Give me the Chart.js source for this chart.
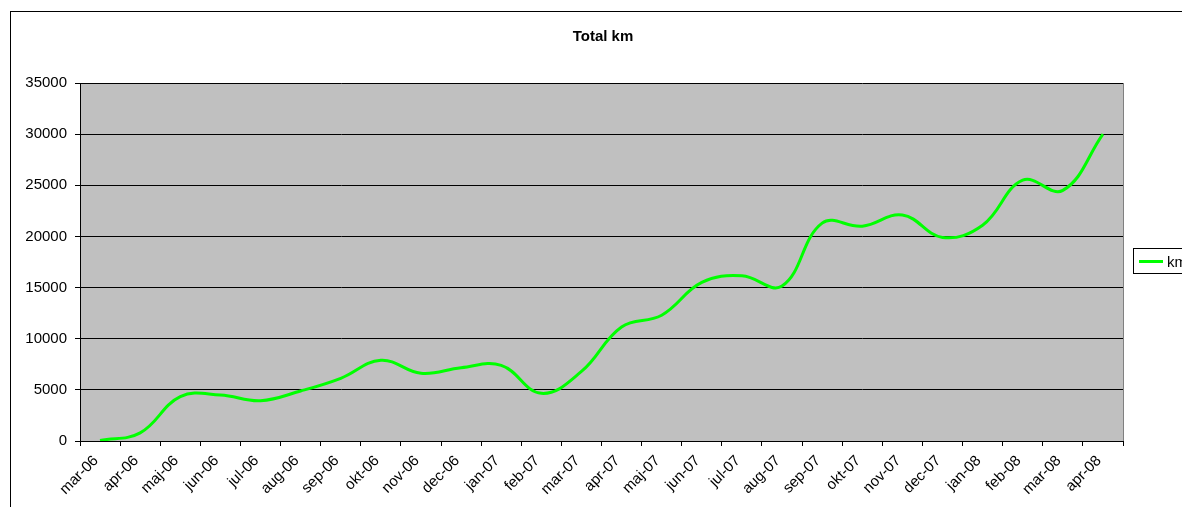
<!DOCTYPE html>
<html>
<head>
  <title>Total km</title>
  <script src="https://cdn.jsdelivr.net/npm/chart.js"></script>
  <style>
    body {
      margin: 0;
      background: #fff;
      overflow: hidden;
    }
  </style>
</head>
<body>
  <canvas id="kmChart" width="1182" height="507"></canvas>

  <script>
    // Months on the x axis
    const months = [
      "mar-06", "apr-06", "maj-06", "jun-06", "jul-06", "aug-06", "sep-06", "okt-06",
      "nov-06", "dec-06", "jan-07", "feb-07", "mar-07", "apr-07", "maj-07", "jun-07",
      "jul-07", "aug-07", "sep-07", "okt-07", "nov-07", "dec-07", "jan-08", "feb-08",
      "mar-08", "apr-08"
    ];

    // Total km
    const kmValues = [
      50, 800, 4330, 4500, 3940, 4890, 6130, 7900,
      6620, 7170, 7400, 4660, 6800, 11150, 12300, 15500,
      16150, 15150, 21300, 21000, 22100, 19900, 21100, 25500,
      24500, 30000
    ];

    const seriesName = "km";
    const chartTitle = "Total km";

    const Y_MIN = 0;
    const Y_MAX = 35000;
    const Y_STEP = 5000;

    const FONT = "'Liberation Sans', Arial, sans-serif";
    const GREEN = "#00ff00";

    // frame, plot background, title and legend like the old Excel chart
    const excelLook = {
      id: 'excelLook',
      beforeDraw(chart) {
        const ctx = chart.ctx;
        const a = chart.chartArea;
        ctx.save();
        ctx.strokeStyle = '#000';
        ctx.lineWidth = 1;
        ctx.strokeRect(10.5, 11.5, 3000, 3000);
        ctx.fillStyle = '#c0c0c0';
        ctx.fillRect(a.left, a.top, a.right - a.left, a.bottom - a.top);
        ctx.restore();
      },
      beforeDatasetsDraw(chart) {
        const ctx = chart.ctx;
        const a = chart.chartArea;
        ctx.save();
        ctx.strokeStyle = '#808080';
        ctx.lineWidth = 1;
        ctx.beginPath();
        ctx.moveTo(Math.round(a.right) + 0.5, a.top);
        ctx.lineTo(Math.round(a.right) + 0.5, a.bottom);
        ctx.stroke();
        ctx.restore();
      },
      afterDraw(chart) {
        const ctx = chart.ctx;
        ctx.save();
        // title
        ctx.fillStyle = '#000';
        ctx.font = "bold 15px " + FONT;
        ctx.textAlign = 'center';
        ctx.textBaseline = 'alphabetic';
        ctx.fillText(chartTitle, 603, 41);

        // legend box (runs off the right edge)
        ctx.fillStyle = '#fff';
        ctx.fillRect(1133.5, 248.5, 200, 25);
        ctx.strokeStyle = '#000';
        ctx.lineWidth = 1;
        ctx.strokeRect(1133.5, 248.5, 200, 25);
        ctx.strokeStyle = GREEN;
        ctx.lineWidth = 3;
        ctx.beginPath();
        ctx.moveTo(1139, 261.5);
        ctx.lineTo(1163, 261.5);
        ctx.stroke();
        ctx.fillStyle = '#000';
        ctx.font = "15px " + FONT;
        ctx.textAlign = 'left';
        ctx.fillText(seriesName, 1167, 267);
        ctx.restore();
      }
    };

    const ctx = document.getElementById('kmChart').getContext('2d');
    new Chart(ctx, {
      type: 'line',
      data: {
        labels: months,
        datasets: [{
          label: seriesName,
          data: kmValues,
          borderColor: GREEN,
          borderWidth: 3,
          pointRadius: 0,
          fill: false,
          tension: 0.4
        }]
      },
      options: {
        responsive: false,
        animation: false,
        layout: {
          padding: { left: 0, top: 83, right: 59, bottom: 0 }
        },
        plugins: {
          legend: { display: false },
          title: { display: false },
          tooltip: { enabled: false }
        },
        scales: {
          x: {
            type: 'category',
            offset: true,
            grid: {
              offset: true,
              drawOnChartArea: false,
              drawTicks: true,
              tickLength: 5,
              color: '#000'
            },
            border: { color: '#000', width: 1 },
            ticks: {
              autoSkip: false,
              maxRotation: 45,
              minRotation: 45,
              padding: 6,
              labelOffset: -4,
              color: '#000',
              font: { family: FONT, size: 15 }
            },
            afterFit(scale) { scale.height = 66; }
          },
          y: {
            min: Y_MIN,
            max: Y_MAX,
            grid: {
              color: '#000',
              tickLength: 5
            },
            border: { color: '#000', width: 1 },
            ticks: {
              stepSize: Y_STEP,
              padding: 8,
              color: '#000',
              font: { family: FONT, size: 15 },
              callback: v => String(v)
            },
            afterFit(scale) { scale.width = 80; }
          }
        }
      },
      plugins: [excelLook]
    });
  </script>
</body>
</html>
